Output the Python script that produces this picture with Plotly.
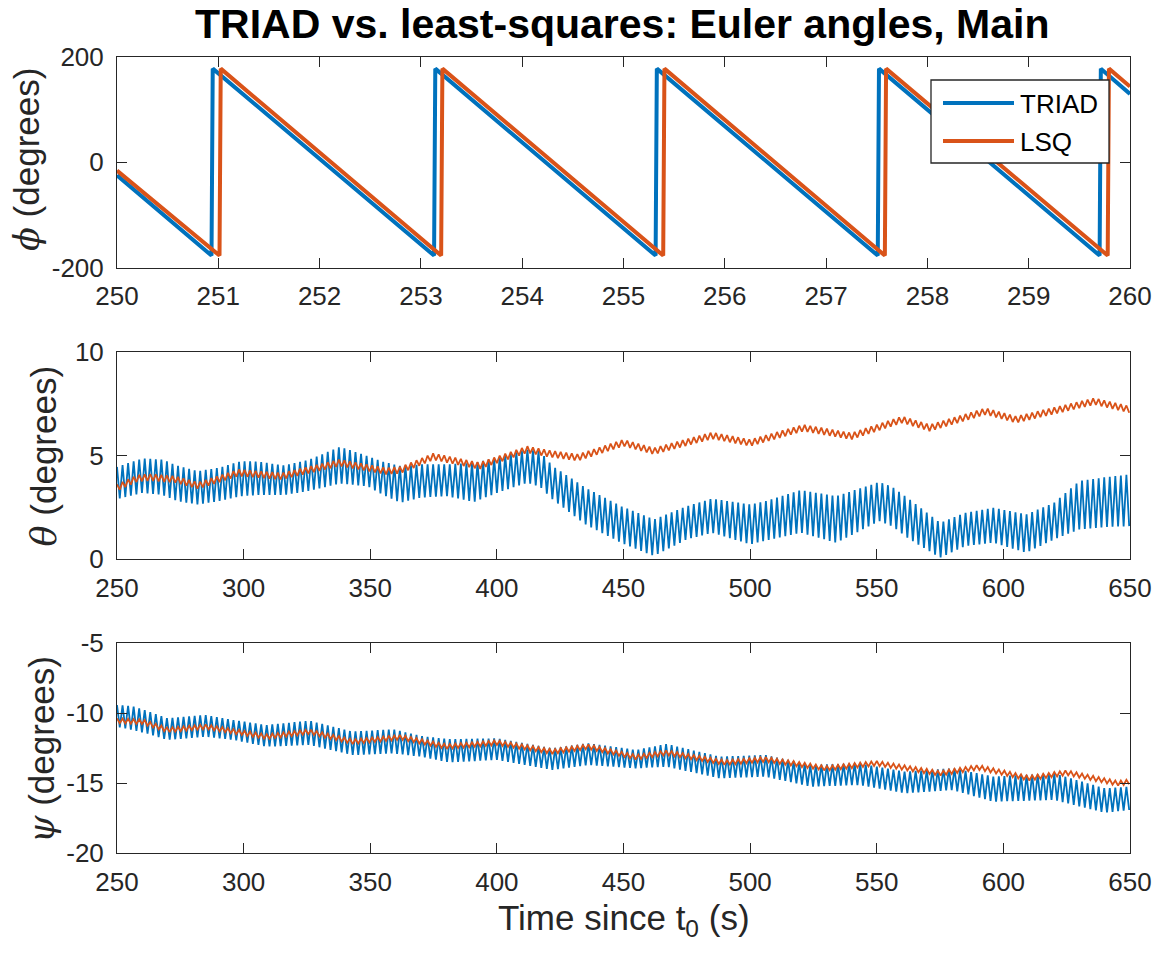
import numpy as np
import plotly.graph_objects as go

W, H = 1163, 955

# ---------------- data ----------------
# Panel 1: roll angle phi (sawtooth corners), 250-260 s
phi_triad_t = [250.0, 250.933, 250.945, 253.13, 253.142, 255.317, 255.329,
               257.51, 257.522, 259.70, 259.712, 260.0]
phi_triad_v = [-25, -177, 177, -177, 177, -177, 177, -177, 177, -177, 177, 129]
phi_lsq_t = [250.0, 251.012, 251.024, 253.20, 253.212, 255.392, 255.404,
             257.58, 257.592, 259.78, 259.792, 260.0]
phi_lsq_v = [-16, -177, 177, -177, 177, -177, 177, -177, 177, -177, 177, 143]

# Oscillation period of the spin-coupled ripple (s)
spin_period = 2.19

# Panel 2: pitch theta, TRIAD ripple envelope (upper / lower)
theta_triad_knot_t = [250, 260, 268, 274, 282, 290, 299, 306, 316, 326, 338, 349,
                      355, 362, 370, 380, 391, 400, 412, 417, 422, 435, 449, 462,
                      475, 485, 500, 506, 520, 534, 551, 556, 563, 575, 585, 596,
                      609, 620, 630, 640, 650]
theta_triad_hi = [4.45, 4.86, 4.8, 4.5, 4.25, 4.4, 4.73, 4.7, 4.52, 4.8, 5.42, 4.97,
                  4.7, 4.49, 4.57, 4.57, 4.65, 4.9, 5.29, 5.2, 4.49, 3.45, 2.56, 1.92,
                  2.56, 2.92, 2.64, 2.8, 3.33, 3.04, 3.72, 3.5, 2.88, 1.76, 2.24, 2.48,
                  2.16, 2.72, 3.77, 3.95, 4.09]
theta_triad_lo = [2.9, 3.2, 3.1, 2.8, 2.64, 2.8, 3.04, 3.1, 3.1, 3.3, 3.65, 3.52,
                  3.1, 2.73, 2.97, 3.05, 2.76, 3.2, 3.69, 3.5, 2.88, 1.68, 0.8, 0.16,
                  0.96, 1.28, 0.72, 0.9, 1.28, 0.8, 1.84, 1.6, 0.96, 0.08, 0.64, 0.8,
                  0.32, 0.96, 1.44, 1.55, 1.6]
# Panel 2: pitch theta, LSQ centre line and ripple half-amplitude
theta_lsq_knot_t = [250, 258, 263, 273, 282, 298, 315, 338, 356, 362, 375, 385, 393,
                    412, 420, 432, 450, 462, 485, 500, 521, 540, 560, 571, 593, 605,
                    636, 650]
theta_lsq_mid = [3.45, 3.9, 3.95, 3.85, 3.55, 4.17, 4.0, 4.65, 4.25, 4.3, 4.95, 4.7,
                 4.5, 5.29, 5.1, 4.9, 5.61, 5.21, 5.96, 5.61, 6.33, 5.93, 6.73, 6.33,
                 7.13, 6.73, 7.61, 7.21]
theta_lsq_amp = 0.16

# Panel 3: yaw psi, TRIAD ripple envelope (upper / lower)
psi_triad_knot_t = [250, 256, 263, 270, 285, 296, 309, 326, 343, 359, 370, 381, 400,
                    422, 436, 455, 467, 488, 506, 524, 543, 561, 580, 596, 620, 640,
                    650]
psi_triad_hi = [-9.41, -9.48, -9.9, -10.36, -10.12, -10.48, -10.84, -10.53, -11.31,
                -11.14, -11.62, -11.85, -11.79, -12.5, -12.14, -12.62, -12.19, -13.1,
                -12.98, -13.69, -13.57, -14.17, -13.93, -14.52, -14.29, -15.36, -15.24]
psi_triad_lo = [-10.96, -11.19, -11.5, -11.9, -11.67, -11.9, -12.38, -12.26, -12.98,
                -12.86, -13.1, -13.5, -13.33, -14.05, -13.69, -13.93, -13.81, -14.64,
                -14.52, -15.24, -15.12, -15.71, -15.48, -16.31, -16.19, -17.1, -16.9]
# Panel 3: yaw psi, LSQ centre line and ripple half-amplitude
psi_lsq_knot_t = [250, 260, 270, 285, 309, 326, 343, 362, 380, 400, 422, 436, 455,
                  467, 490, 506, 530, 550, 575, 590, 610, 625, 645, 650]
psi_lsq_mid = [-10.53, -10.6, -11.19, -10.96, -11.67, -11.31, -12.03, -11.71, -12.38,
               -12.1, -12.74, -12.38, -13.14, -12.81, -13.52, -13.29, -13.93, -13.57,
               -14.29, -13.86, -14.64, -14.24, -15.0, -14.89]
psi_lsq_amp = 0.17

# Tick values
phi_xticks = list(range(250, 261))
phi_yticks = [-200, 0, 200]
time_ticks = list(range(250, 651, 50))
theta_yticks = [0, 5, 10]
psi_yticks = [-20, -15, -10, -5]

series_names = ["TRIAD", "LSQ"]
series_colors = ["#0072BD", "#D95319"]

# ---------------- build ripple series from the read envelopes ----------------
t_rip = np.arange(250.0, 650.0 + 1e-9, spin_period / 2.0)
even = (np.arange(t_rip.size) % 2) == 0


def ripple_between(knot_t, hi, lo):
    h = np.interp(t_rip, knot_t, hi)
    l = np.interp(t_rip, knot_t, lo)
    return np.where(even, h, l)


def ripple_about(knot_t, mid, amp):
    m = np.interp(t_rip, knot_t, mid)
    return np.where(even, m + amp, m - amp)


theta_triad = ripple_between(theta_triad_knot_t, theta_triad_hi, theta_triad_lo)
theta_lsq = ripple_about(theta_lsq_knot_t, theta_lsq_mid, theta_lsq_amp)
psi_triad = ripple_between(psi_triad_knot_t, psi_triad_hi, psi_triad_lo)
psi_lsq = ripple_about(psi_lsq_knot_t, psi_lsq_mid, psi_lsq_amp)

# ---------------- figure ----------------
fig = go.Figure()
fig.add_trace(go.Scatter(x=phi_triad_t, y=phi_triad_v, mode="lines", name=series_names[0],
                         line=dict(color=series_colors[0], width=4), xaxis="x", yaxis="y"))
fig.add_trace(go.Scatter(x=phi_lsq_t, y=phi_lsq_v, mode="lines", name=series_names[1],
                         line=dict(color=series_colors[1], width=4), xaxis="x", yaxis="y"))
fig.add_trace(go.Scatter(x=t_rip, y=theta_triad, mode="lines", name=series_names[0],
                         line=dict(color=series_colors[0], width=1.8), xaxis="x2", yaxis="y2"))
fig.add_trace(go.Scatter(x=t_rip, y=theta_lsq, mode="lines", name=series_names[1],
                         line=dict(color=series_colors[1], width=1.8), xaxis="x2", yaxis="y2"))
fig.add_trace(go.Scatter(x=t_rip, y=psi_triad, mode="lines", name=series_names[0],
                         line=dict(color=series_colors[0], width=1.8), xaxis="x3", yaxis="y3"))
fig.add_trace(go.Scatter(x=t_rip, y=psi_lsq, mode="lines", name=series_names[1],
                         line=dict(color=series_colors[1], width=1.8), xaxis="x3", yaxis="y3"))


def px(v):
    return v / W


def py(v):
    return 1 - v / H


FONT = "Liberation Sans, Arial, Helvetica, sans-serif"
AX = "#262626"
TICKFONT = dict(family=FONT, size=26, color=AX)

xdom = [px(117), px(1130)]
doms = [[py(267.7), py(56.5)], [py(559.3), py(351.7)], [py(853.3), py(643.3)]]


def axis_common(vals, rng, dom, anchor):
    return dict(showline=True, linecolor=AX, linewidth=1, mirror="ticks", ticks="inside",
                ticklen=10, tickwidth=1, tickcolor=AX, showgrid=False, zeroline=False,
                tickfont=TICKFONT, automargin=False, tickmode="array", tickvals=vals,
                ticktext=[str(v) for v in vals], range=rng, domain=dom, anchor=anchor)


layout = dict(width=W, height=H, margin=dict(l=0, r=0, t=0, b=0, autoexpand=False),
              paper_bgcolor="white", plot_bgcolor="white", showlegend=False,
              template="none")

layout["xaxis"] = axis_common(phi_xticks, [250, 260], xdom, "y")
layout["yaxis"] = axis_common(phi_yticks, [-200, 200], doms[0], "x")
layout["xaxis2"] = axis_common(time_ticks, [250, 650], xdom, "y2")
layout["yaxis2"] = axis_common(theta_yticks, [0, 10], doms[1], "x2")
layout["xaxis3"] = axis_common(time_ticks, [250, 650], xdom, "y3")
layout["yaxis3"] = axis_common(psi_yticks, [-20, -5], doms[2], "x3")
for k in ["xaxis", "xaxis2", "xaxis3"]:
    layout[k]["ticklabelstandoff"] = 5
for k in ["yaxis", "yaxis2", "yaxis3"]:
    layout[k]["ticklabelstandoff"] = 7
fig.update_layout(**layout)

sym = "<span style='font-family:DejaVu Serif'><i>{}</i></span> (degrees)"
ylabels = [(sym.format("ϕ"), 27, 160), (sym.format("θ"), 43, 455.5), (sym.format("ψ"), 42, 750)]
annotations = []
for txt, xx, yy in ylabels:
    annotations.append(dict(text=txt, x=px(xx), y=py(yy), xref="paper", yref="paper",
                            showarrow=False, textangle=-90, xanchor="center", yanchor="middle",
                            font=dict(family=FONT, size=35, color=AX)))
annotations.append(dict(text="Time since t<sub>0</sub> (s)", x=px(623.5), y=py(920),
                        xref="paper", yref="paper", showarrow=False, xanchor="center",
                        yanchor="middle", font=dict(family=FONT, size=35, color=AX)))
annotations.append(dict(text="<b>TRIAD vs. least-squares: Euler angles, Main</b>",
                        x=px(622), y=py(24), xref="paper", yref="paper", showarrow=False,
                        xanchor="center", yanchor="middle",
                        font=dict(family=FONT, size=41, color="black")))

# legend (drawn in the first panel)
shapes = [dict(type="rect", xref="paper", yref="paper", x0=px(931), x1=px(1109),
               y0=py(163), y1=py(80), line=dict(color="#262626", width=1.3),
               fillcolor="white", layer="above")]
for i, (name, col, ly) in enumerate(zip(series_names, series_colors, [103, 141])):
    shapes.append(dict(type="line", xref="paper", yref="paper", x0=px(943), x1=px(1014),
                       y0=py(ly), y1=py(ly), line=dict(color=col, width=4), layer="above"))
    annotations.append(dict(text=name, x=px(1018), y=py(ly + 1), xref="paper", yref="paper",
                            showarrow=False, xanchor="left", yanchor="middle",
                            font=dict(family=FONT, size=26, color="black")))

fig.update_layout(annotations=annotations, shapes=shapes)
fig.write_html("out.html")
